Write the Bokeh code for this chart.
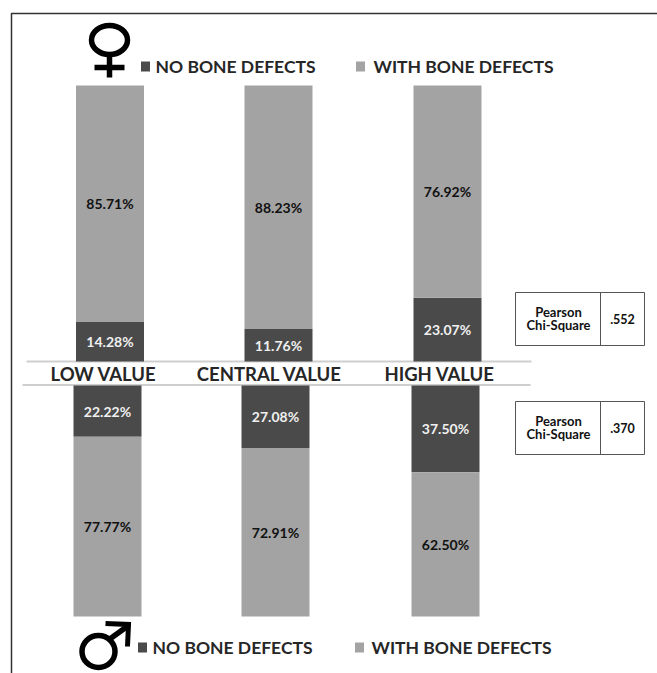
from bokeh.plotting import figure
from bokeh.models import Range1d
from bokeh.core.properties import value
from bokeh.embed import file_html
from bokeh.resources import INLINE

categories = ["LOW VALUE", "CENTRAL VALUE", "HIGH VALUE"]
female_no = [14.28, 11.76, 23.07]
female_with = [85.71, 88.23, 76.92]
male_no = [22.22, 27.08, 37.50]
male_with = [77.77, 72.91, 62.50]
legend_labels = ["NO BONE DEFECTS", "WITH BONE DEFECTS"]
chi_square = [".552", ".370"]

DARK = "#4a4a4a"
LIGHT = "#a3a3a3"
INK = "#262626"
FONT = value("Lato")

W, H = 657, 673
p = figure(width=W, height=H, output_backend="svg", toolbar_location=None,
           x_range=Range1d(0, W), y_range=Range1d(H, 0),
           x_axis_location=None, y_axis_location=None, min_border=0,
           outline_line_color=None, background_fill_color="white", border_fill_color="white")
p.grid.visible = False

def scale(base, full):
    per = 100.0 / (full - base)
    return Range1d((H - base) * per, (0 - base) * per)

p.extra_y_ranges = {"female": scale(361, 85), "male": scale(385, 616)}

# frame
p.line([11, 11, 657], [673, 13, 13], line_color="#333333", line_width=1.5)

# separators
p.line([26, 531], [361, 361], line_color="#cfcfcf", line_width=2)
p.line([22, 530], [384.5, 384.5], line_color="#cfcfcf", line_width=2)

BAR_W = 68
panels = [("female", [109.5, 278, 447], female_no, female_with),
          ("male", [107, 275, 445], male_no, male_with)]
for rng, xs, no, wi in panels:
    tops = [a + b for a, b in zip(no, wi)]
    p.vbar(x=xs, width=BAR_W, bottom=[0] * 3, top=no, y_range_name=rng,
           fill_color=DARK, line_color=None)
    p.vbar(x=xs, width=BAR_W, bottom=no, top=tops, y_range_name=rng,
           fill_color=LIGHT, line_color=None)
    p.text(x=xs, y=[v / 2 for v in no], text=[f"{v:.2f}%" for v in no], y_range_name=rng,
           text_color="#f0f0f0", text_font=FONT, text_font_style="bold", text_font_size="14px",
           text_align="center", text_baseline="middle")
    p.text(x=xs, y=[a + b / 2 for a, b in zip(no, wi)], text=[f"{v:.2f}%" for v in wi],
           y_range_name=rng, text_color="#111111", text_font=FONT, text_font_style="bold",
           text_font_size="14px", text_align="center", text_baseline="middle")

# category labels
p.text(x=[103, 269, 439], y=[373.5] * 3, text=categories, text_color=INK, text_font=FONT,
       text_font_style="bold", text_font_size="18.5px", text_align="center", text_baseline="middle")

# legends
for y, sq, tx in [(66, [145, 360], [155, 373]), (647, [142, 359], [152, 371])]:
    p.rect(x=sq, y=[y] * 2, width=9, height=10, fill_color=[DARK, LIGHT], line_color=None)
    p.text(x=tx, y=[y] * 2, text=legend_labels, text_color=INK, text_font=FONT,
           text_font_style="bold", text_font_size="17.5px", text_align="left", text_baseline="middle")

# chi-square boxes
for (top, bottom), val in zip([(292, 345), (401, 454)], chi_square):
    p.quad(left=[515], right=[644], top=[top], bottom=[bottom], fill_color="white",
           line_color="#555555", line_width=1)
    p.line([600, 600], [top, bottom], line_color="#555555", line_width=1)
    mid = (top + bottom) / 2
    p.text(x=[558, 558], y=[mid - 7, mid + 6], text=["Pearson", "Chi-Square"], text_color="#111111",
           text_font=FONT, text_font_style="bold", text_font_size="13px",
           text_align="center", text_baseline="middle")
    p.text(x=[622], y=[mid], text=[val], text_color="#111111", text_font=FONT,
           text_font_style="bold", text_font_size="12.5px", text_align="center", text_baseline="middle")

# female sign
p.ellipse(x=[109], y=[39.5], width=[36], height=[29], fill_alpha=0, line_color="black", line_width=5.5)
p.line([109, 109], [54, 77], line_color="black", line_width=5.5)
p.line([94, 124], [67, 67], line_color="black", line_width=5.5)

# male sign
p.ellipse(x=[98], y=[651], width=[33], height=[32], fill_alpha=0, line_color="black", line_width=5.5)
p.line([110, 128], [638, 625], line_color="black", line_width=5.5)
p.line([105, 128, 127], [623, 624, 646], line_color="black", line_width=5, line_join="miter")

open("out.html", "w").write(file_html(p, INLINE))
